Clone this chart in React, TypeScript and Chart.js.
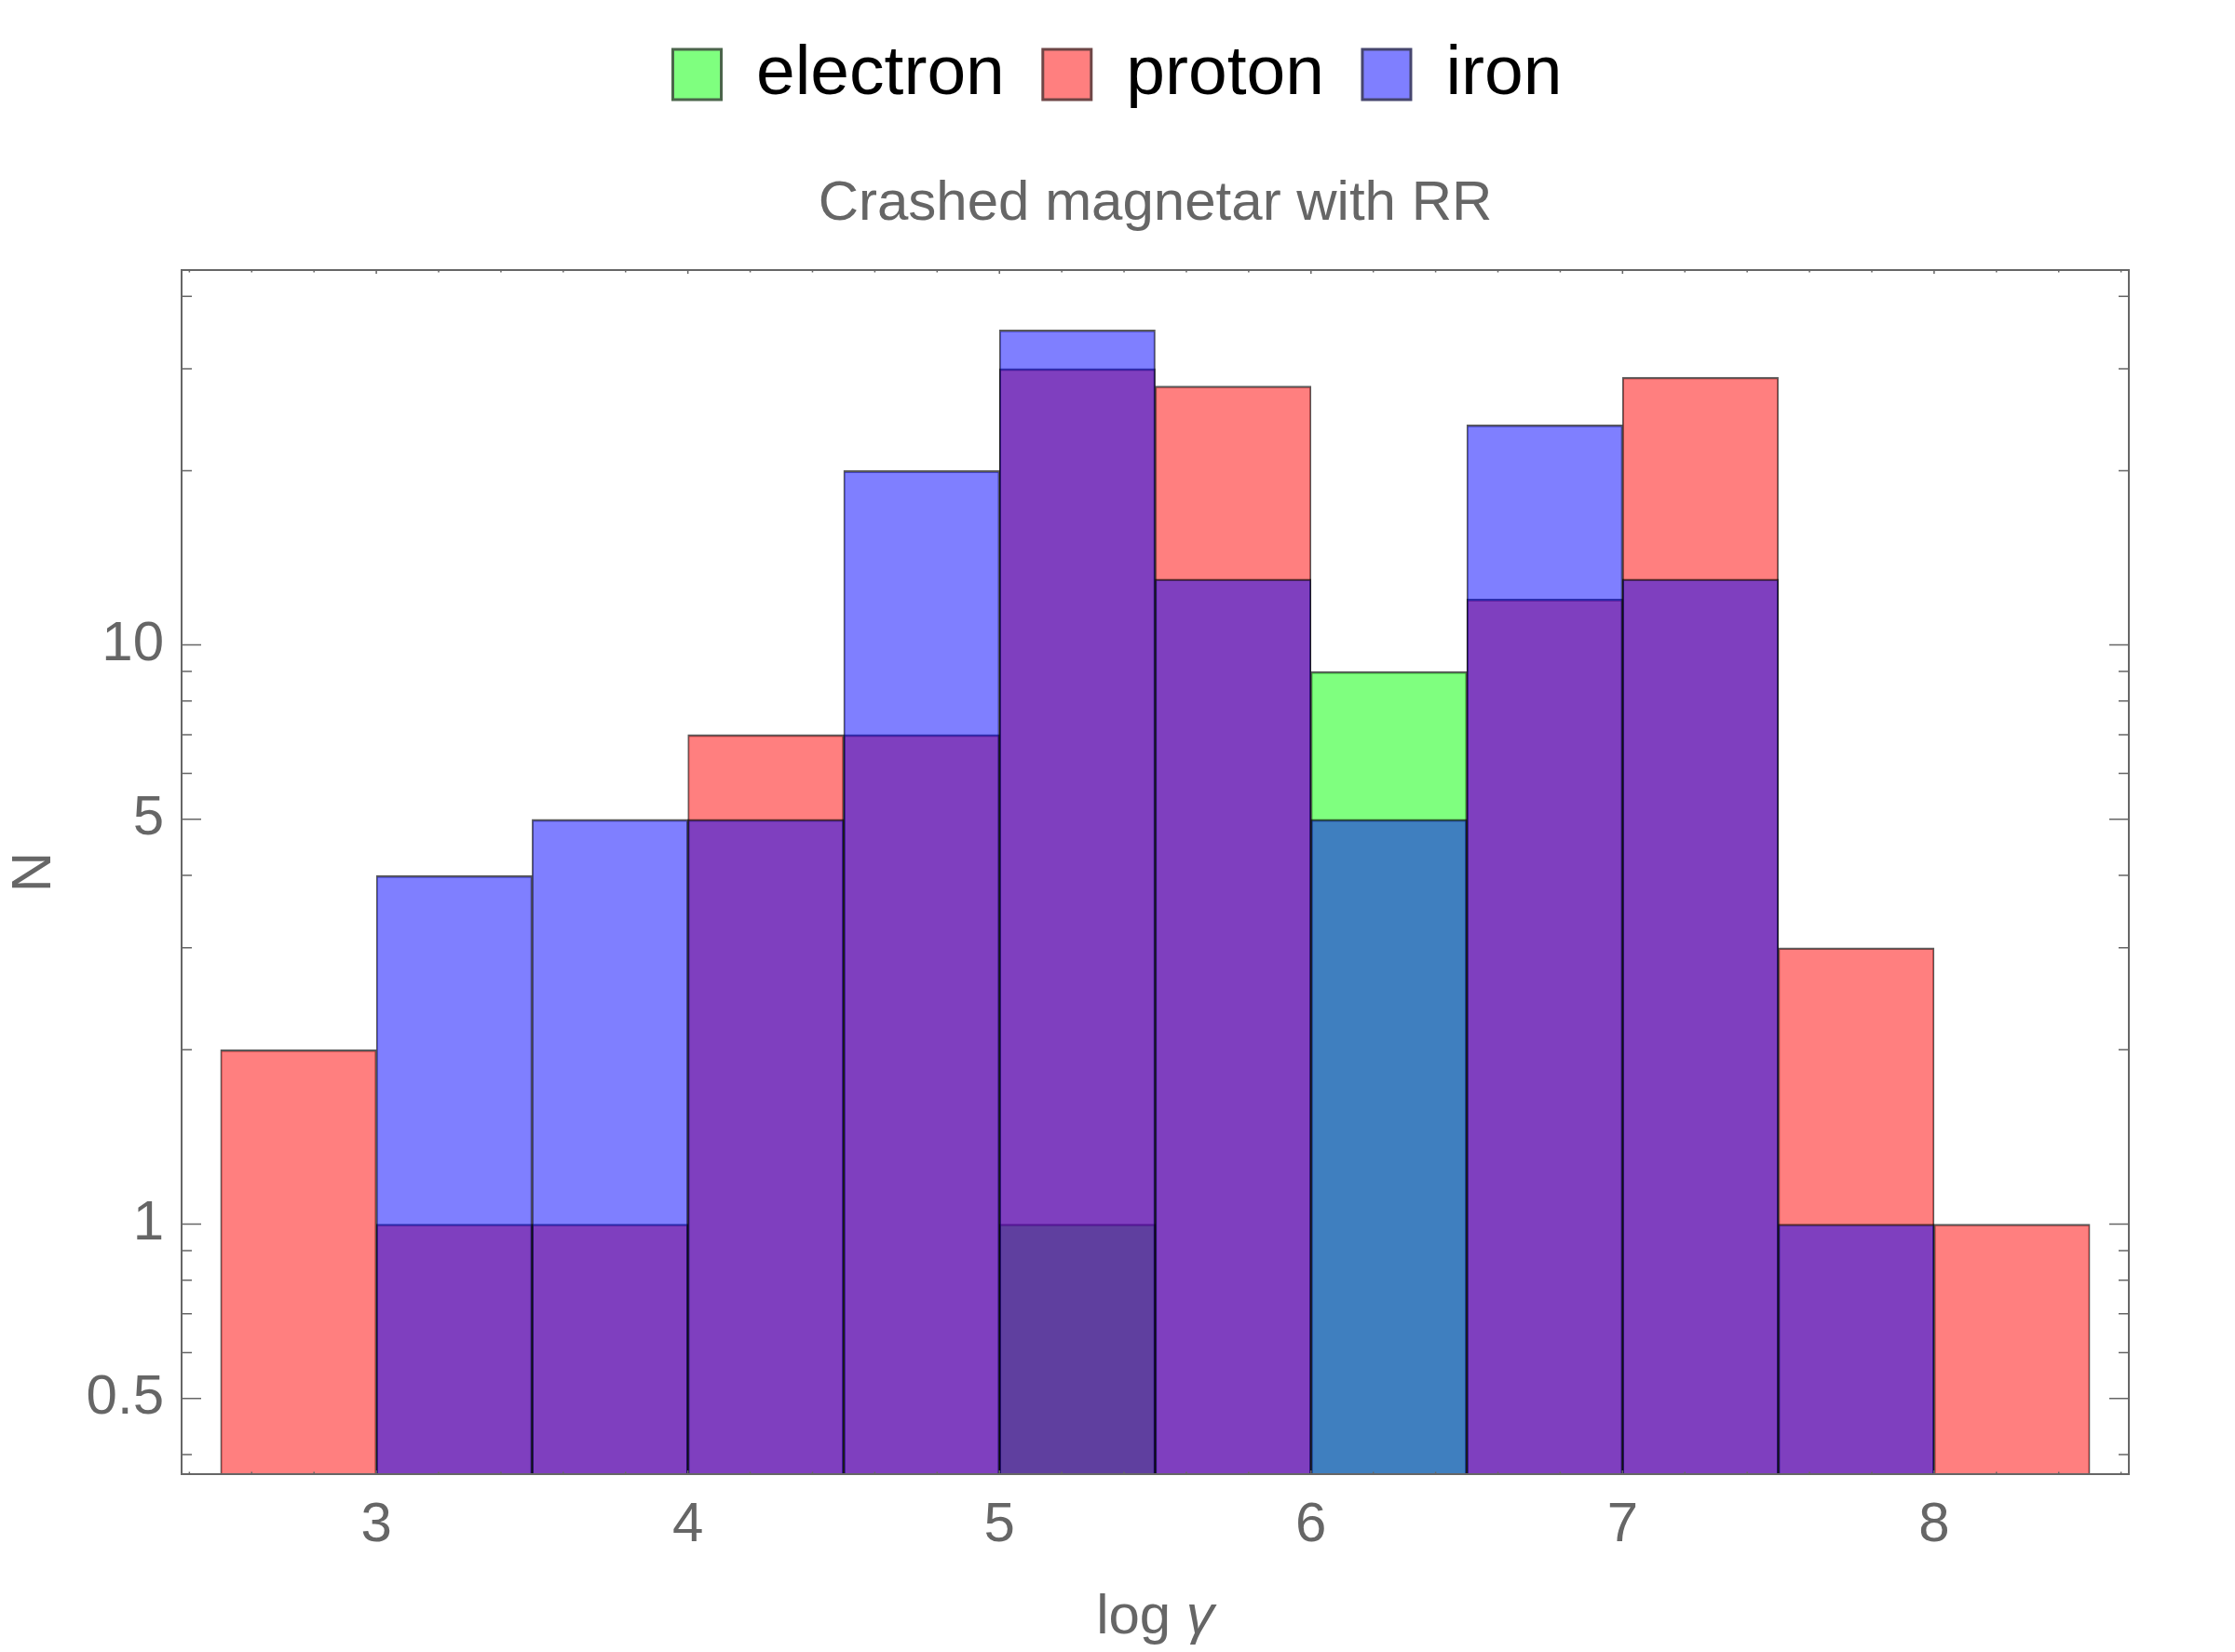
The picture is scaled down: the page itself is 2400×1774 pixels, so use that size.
import { useEffect, useRef } from "react";
import { Chart, registerables } from "chart.js";

Chart.register(...registerables);

// histogram bins of width 0.5 in log gamma
const binCenters = [2.75, 3.25, 3.75, 4.25, 4.75, 5.25, 5.75, 6.25, 6.75, 7.25, 7.75, 8.25];
const electronCounts = [0, 0, 0, 0, 0, 1, 0, 9, 0, 0, 0, 0];
const protonCounts = [2, 1, 1, 7, 7, 30, 28, 0, 12, 29, 3, 1];
const ironCounts = [0, 4, 5, 5, 20, 35, 13, 5, 24, 13, 1, 0];

const xTickLabels = [3, 4, 5, 6, 7, 8];
const yTickLabels = [0.5, 1, 5, 10];
const yMinorTicks = [0.4, 0.6, 0.7, 0.8, 0.9, 2, 3, 4, 6, 7, 8, 9, 20, 30, 40];

const titleText = "Crashed magnetar with RR";
const xTitleMain = "log ";
const xTitleSymbol = "γ";
const yTitle = "N";

const FONT = '"Liberation Sans", Arial, sans-serif';
const GRAY = "#666";

const series = [
  { label: "electron", counts: electronCounts, fill: "rgba(0,255,0,0.5)", edge: "#4b654b", order: 3 },
  { label: "proton", counts: protonCounts, fill: "rgba(255,0,0,0.5)", edge: "#6e4646", order: 2 },
  { label: "iron", counts: ironCounts, fill: "rgba(0,0,255,0.5)", edge: "#46466e", order: 1 },
];

// frame with inward ticks on all four sides, plus the x axis title with italic gamma
const framePlugin = {
  id: "frame",
  afterDatasetsDraw(chart: any) {
    const { ctx, chartArea: a } = chart;
    const xs = chart.scales.x;
    const ys = chart.scales.y;
    ctx.save();
    ctx.strokeStyle = GRAY;
    ctx.lineWidth = 1.5;
    const yTick = (v: number, len: number) => {
      const py = ys.getPixelForValue(v);
      if (py < a.top || py > a.bottom) return;
      ctx.beginPath();
      ctx.moveTo(a.left, py);
      ctx.lineTo(a.left + len, py);
      ctx.moveTo(a.right, py);
      ctx.lineTo(a.right - len, py);
      ctx.stroke();
    };
    yTickLabels.forEach((v) => yTick(v, 21));
    yMinorTicks.forEach((v) => yTick(v, 11));
    const xTick = (v: number, len: number) => {
      const px = xs.getPixelForValue(v);
      if (px < a.left || px > a.right) return;
      ctx.beginPath();
      ctx.moveTo(px, a.bottom);
      ctx.lineTo(px, a.bottom - len);
      ctx.moveTo(px, a.top);
      ctx.lineTo(px, a.top + len);
      ctx.stroke();
    };
    for (let i = 12; i <= 43; i++) {
      const v = i / 5;
      xTick(v, Number.isInteger(v) ? 4 : 2.5);
    }
    ctx.lineWidth = 2;
    ctx.strokeRect(a.left, a.top, a.right - a.left, a.bottom - a.top);
    ctx.restore();
  },
  afterDraw(chart: any) {
    const { ctx, chartArea: a } = chart;
    const xs = chart.scales.x;
    ctx.save();
    ctx.fillStyle = GRAY;
    ctx.textBaseline = "alphabetic";
    ctx.textAlign = "left";
    const f1 = `60px ${FONT}`;
    const f2 = `italic 60px ${FONT}`;
    ctx.font = f1;
    const w1 = ctx.measureText(xTitleMain).width;
    ctx.font = f2;
    const w2 = ctx.measureText(xTitleSymbol).width;
    const x0 = (a.left + a.right) / 2 - (w1 + w2) / 2;
    const base = xs.bottom - 20;
    ctx.font = f1;
    ctx.fillText(xTitleMain, x0, base);
    ctx.font = f2;
    ctx.fillText(xTitleSymbol, x0 + w1, base);
    ctx.restore();
  },
};

export default function App() {
  const canvasRef = useRef<HTMLCanvasElement>(null);

  useEffect(() => {
    if (!canvasRef.current) return;
    const chart = new Chart(canvasRef.current, {
      type: "bar",
      data: {
        datasets: series.map((s) => ({
          label: s.label,
          data: binCenters.map((c, i) => ({ x: c, y: s.counts[i] > 0 ? s.counts[i] : null })),
          backgroundColor: s.fill,
          borderColor: "rgba(0,0,0,0.65)",
          borderWidth: { top: 2, left: 1.3, right: 1.3, bottom: 0 },
          borderSkipped: "start",
          grouped: false,
          barPercentage: 1,
          categoryPercentage: 1,
          order: s.order,
        })) as any,
      },
      options: {
        animation: false,
        responsive: false,
        devicePixelRatio: 1,
        layout: { padding: { top: 1.5, left: 0, right: 0, bottom: 0 } },
        plugins: {
          legend: {
            position: "top",
            weight: 3000,
            labels: {
              boxWidth: 52,
              boxHeight: 54,
              padding: 41,
              color: "#000",
              font: { family: FONT, size: 75 },
              sort: (a: any, b: any) => a.datasetIndex - b.datasetIndex,
              generateLabels: (c: any) =>
                (Chart.defaults.plugins.legend.labels.generateLabels as any)(c).map((it: any) => ({
                  ...it,
                  lineWidth: 3,
                  strokeStyle: series[it.datasetIndex].edge,
                })),
            },
          },
          title: {
            display: true,
            text: titleText,
            color: GRAY,
            fullSize: false,
            weight: 500,
            font: { family: FONT, size: 60, weight: "normal", lineHeight: 1.2 },
            padding: { top: 55.5, bottom: 35 },
          },
          tooltip: { enabled: false },
        },
        scales: {
          x: {
            type: "linear",
            position: "bottom",
            min: 2.375,
            max: 8.625,
            offset: false,
            grid: { display: false, drawTicks: false },
            border: { display: false },
            ticks: {
              padding: 19,
              color: GRAY,
              font: { family: FONT, size: 60 },
              maxRotation: 0,
              autoSkip: false,
              callback: (v: any) => String(v),
            },
            afterBuildTicks: (s: any) => {
              s.ticks = xTickLabels.map((v) => ({ value: v }));
            },
            afterFit: (s: any) => {
              s.height = 191;
            },
          },
          y: {
            type: "logarithmic",
            position: "left",
            min: 0.37,
            max: 44.4,
            grid: { display: false, drawTicks: false },
            border: { display: false },
            ticks: {
              padding: 19,
              color: GRAY,
              font: { family: FONT, size: 60 },
              autoSkip: false,
              callback: (v: any) => String(v),
            },
            title: {
              display: true,
              text: yTitle,
              color: GRAY,
              font: { family: FONT, size: 60 },
              padding: { top: 1, bottom: 0 },
            },
            afterBuildTicks: (s: any) => {
              s.ticks = yTickLabels.map((v) => ({ value: v }));
            },
            afterFit: (s: any) => {
              s.width = 195;
            },
          },
          y2: {
            type: "logarithmic",
            position: "right",
            min: 0.37,
            max: 44.4,
            grid: { display: false, drawTicks: false },
            border: { display: false },
            ticks: { display: false },
            afterFit: (s: any) => {
              s.width = 114;
            },
          },
        },
      },
      plugins: [framePlugin],
    });
    return () => {
      chart.destroy();
    };
  }, []);

  return (
    <div style={{ position: "fixed", left: 0, top: 0, width: 2400, height: 1774, background: "#fff" }}>
      <canvas ref={canvasRef} width={2400} height={1774} />
    </div>
  );
}
